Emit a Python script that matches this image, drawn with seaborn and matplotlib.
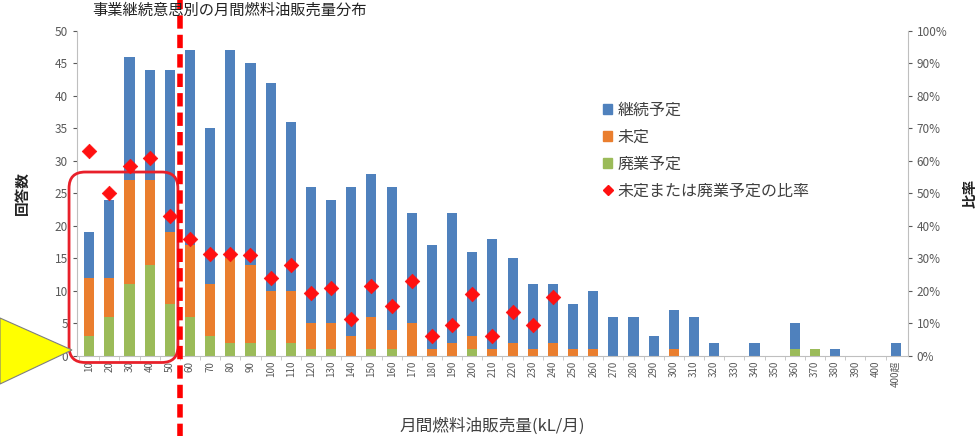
import numpy as np
import pandas as pd
import matplotlib
matplotlib.use("Agg")
import matplotlib.pyplot as plt
import matplotlib.patches as mpatches
from matplotlib.lines import Line2D
from matplotlib.ticker import MultipleLocator, PercentFormatter
import seaborn as sns

# ── データ ─────────────────────────────────────────────────────────────
categories = [str(v) for v in range(10, 410, 10)] + ["400超"]

continue_plan = [7, 12, 19, 17, 25, 30, 24, 32, 31, 32,
                 26, 21, 19, 23, 22, 22, 17, 16, 20, 13,
                 17, 13, 10, 9, 7, 9, 6, 6, 3, 6,
                 6, 2, 0, 2, 0, 4, 0, 1, 0, 0, 2]
undecided = [9, 6, 16, 13, 11, 11, 8, 13, 12, 6,
             8, 4, 4, 3, 5, 3, 5, 1, 2, 2,
             1, 2, 1, 2, 1, 1, 0, 0, 0, 1,
             0, 0, 0, 0, 0, 0, 0, 0, 0, 0, 0]
close_plan = [3, 6, 11, 14, 8, 6, 3, 2, 2, 4,
              2, 1, 1, 0, 1, 1, 0, 0, 0, 1,
              0, 0, 0, 0, 0, 0, 0, 0, 0, 0,
              0, 0, 0, 0, 0, 1, 1, 0, 0, 0, 0]
# 未定または廃業予定の比率 (%), 240kL/月まで表示
ratio_pct = [63, 50, 58.5, 61, 43, 36, 31.5, 31.5, 31, 24,
             28, 19.5, 21, 11.5, 21.5, 15.5, 23, 6, 9.5, 19,
             6, 13.5, 9.5, 18] + [np.nan] * 17

TITLE = "事業継続意思別の月間燃料油販売量分布"
BLUE, ORANGE, GREEN, RED = "#4F81BD", "#EA7E2E", "#9BBB59", "#FF1010"
GRAY = "#595959"

sns.set_style("white")
plt.rcParams["font.family"] = ["Noto Sans CJK JP", "DejaVu Sans"]

df = pd.DataFrame({
    "cat": categories,
    "blue": continue_plan,
    "orange": undecided,
    "green": close_plan,
    "ratio": np.array(ratio_pct, dtype=float) / 100,
})
df["total"] = df["blue"] + df["orange"] + df["green"]
df["lower"] = df["orange"] + df["green"]

fig = plt.figure(figsize=(9.76, 4.36), dpi=100)
ax = fig.add_axes([0.079, 0.1835, 0.851, 0.7455])

# 積み上げ棒 (合計 → 未定+廃業 → 廃業 の順に重ねる)
for col, color in [("total", BLUE), ("lower", ORANGE), ("green", GREEN)]:
    sns.barplot(data=df, x="cat", y=col, color=color, width=0.5,
                linewidth=0, saturation=1, ax=ax, zorder=2)

ax.set_xlim(-0.6, len(categories) - 0.4)
ax.set_ylim(0, 50)
ax.yaxis.set_major_locator(MultipleLocator(5))
ax.set_xlabel("月間燃料油販売量(kL/月)", fontsize=12, color="#404040", labelpad=22)
ax.set_ylabel("回答数", fontsize=10.5, color="#222222", fontweight="bold", labelpad=18)
ax.tick_params(axis="y", colors=GRAY, labelsize=8.5, length=3, direction="out", left=True)
ax.tick_params(axis="x", colors=GRAY, labelsize=7, length=0, rotation=90)
ax.set_xticks(np.arange(len(categories)) - 0.5, minor=True)
ax.tick_params(axis="x", which="minor", length=3, color="#BFBFBF", bottom=True)
for side in ["top", "right"]:
    ax.spines[side].set_visible(False)
for side in ["left", "bottom"]:
    ax.spines[side].set_color("#BFBFBF")
    ax.spines[side].set_linewidth(0.8)

# 比率 (第2軸)
ax2 = ax.twinx()
sns.scatterplot(x=np.arange(len(categories)), y=df["ratio"], marker="D", s=55,
                color=RED, edgecolor=RED, linewidth=0.5, ax=ax2, zorder=4)
ax2.set_ylim(0, 1)
ax2.yaxis.set_major_locator(MultipleLocator(0.1))
ax2.yaxis.set_major_formatter(PercentFormatter(1.0, decimals=0))
ax2.tick_params(axis="y", colors=GRAY, labelsize=8.5, length=3, direction="out")
ax2.set_ylabel("比率", fontsize=10.5, color="#222222", fontweight="bold", labelpad=10)
for side in ["top", "left", "bottom"]:
    ax2.spines[side].set_visible(False)
ax2.spines["right"].set_color("#BFBFBF")
ax2.spines["right"].set_linewidth(0.8)

# 区切りの赤い破線 (50と60の間)
split = categories.index("60") - 0.5
ax2.axvline(split, ymin=-0.25, ymax=1.1, color="#FF0000", lw=4,
            ls=(0, (2.4, 1.1)), clip_on=False, zorder=6)

# 小規模層を囲む赤い角丸枠
box = mpatches.FancyBboxPatch((-1.0, -1.0), split - 0.1 + 1.0, 29.3,
                              boxstyle="round,pad=0,rounding_size=0.8",
                              mutation_aspect=3.1, fill=False,
                              edgecolor="#E8202A", lw=2, clip_on=False, zorder=5)
ax.add_patch(box)

# 黄色の矢印 (左端)
arrow = mpatches.Polygon([(0.0, 1 - 318 / 436), (72 / 976, 1 - 350 / 436),
                          (0.0, 1 - 384 / 436)], closed=True,
                         facecolor="#FFFF00", edgecolor="#7F7F7F", lw=0.8,
                         transform=fig.transFigure, zorder=10)
fig.patches.append(arrow)

# 凡例
handles = [
    mpatches.Patch(color=BLUE, label="継続予定"),
    mpatches.Patch(color=ORANGE, label="未定"),
    mpatches.Patch(color=GREEN, label="廃業予定"),
    Line2D([], [], marker="D", color=RED, ls="none", markersize=5,
           label="未定または廃業予定の比率"),
]
fig.legend(handles=handles, loc="upper left", bbox_to_anchor=(0.603, 0.8),
           frameon=False, fontsize=11.5, handlelength=0.6, handleheight=0.6,
           handletextpad=0.3, labelspacing=0.62, labelcolor="#404040")

# タイトル (上端)
fig.text(0.235, 0.997, TITLE, ha="center", va="top", fontsize=11, color="#222222")

fig.savefig("out.png", dpi=100)
